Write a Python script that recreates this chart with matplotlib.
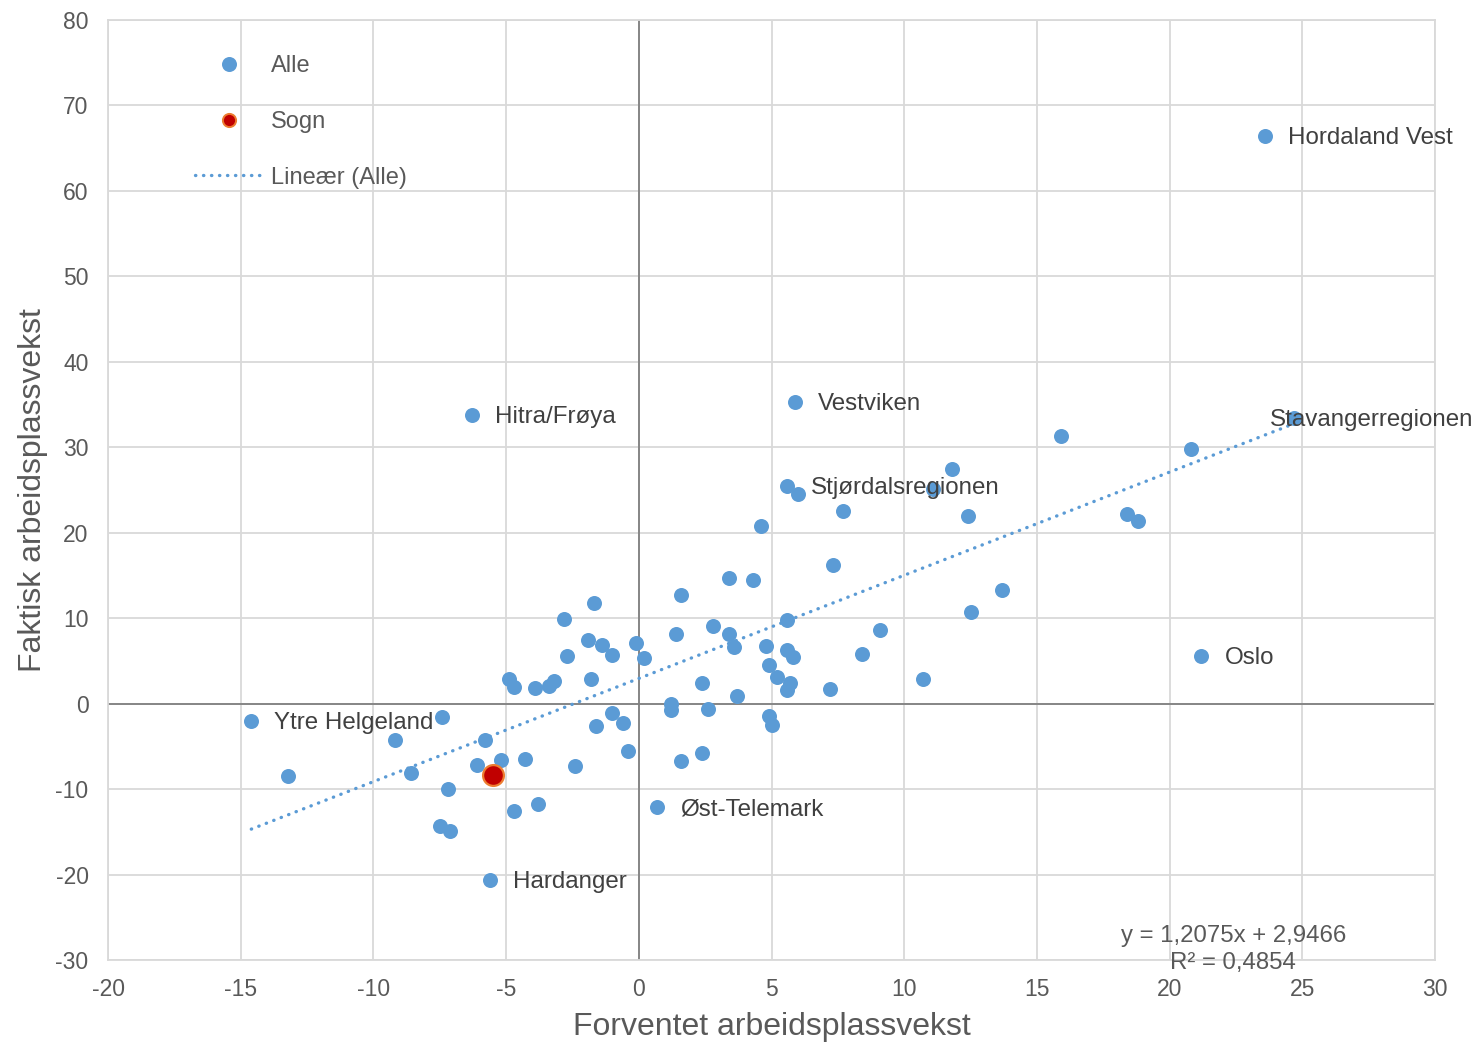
import matplotlib
matplotlib.use('Agg')
import matplotlib.pyplot as plt
from matplotlib.lines import Line2D

plt.rcParams['font.family'] = ['Liberation Sans', 'DejaVu Sans']
plt.rcParams['axes.unicode_minus'] = False

# ---- data ----
label_names = ["Hordaland Vest", "Stavangerregionen", "Oslo", "Vestviken",
               "Stjørdalsregionen", "Hitra/Frøya", "Ytre Helgeland",
               "Øst-Telemark", "Hardanger"]
label_x = [23.6, 24.7, 21.2, 5.9, 5.6, -6.3, -14.6, 0.7, -5.6]
label_y = [66.4, 33.4, 5.6, 35.3, 25.5, 33.8, -2.0, -12.1, -20.6]

other_x = [20.8, 18.4, 18.8, 15.9, 13.7, 11.8, 11.1, 12.4, 12.5, 10.7,
           6.0, 7.7, 4.6, 7.3, 3.4, 4.3, 1.6, 5.6, 9.1, 2.8,
           3.4, 1.4, 3.6, 4.8, 5.6, 5.8, 8.4, 4.9, 5.2, 5.7,
           5.6, 7.2, 3.7, 2.4, 1.2, 1.2, 2.6, 4.9, 5.0, 2.4,
           1.6, 0.2, -0.1, -1.0, -1.4, -1.7, -1.9, -2.8, -2.7, -1.8,
           -3.2, -3.4, -3.9, -4.9, -4.7, -1.0, -0.6, -1.6, -0.4, -2.4,
           -4.3, -5.2, -6.1, -5.8, -4.7, -3.8, -7.2, -7.5, -7.1, -7.4,
           -9.2, -8.6, -13.2]
other_y = [29.8, 22.2, 21.4, 31.3, 13.3, 27.5, 25.1, 22.0, 10.7, 2.9,
           24.5, 22.5, 20.8, 16.2, 14.7, 14.5, 12.7, 9.8, 8.6, 9.1,
           8.2, 8.2, 6.6, 6.7, 6.3, 5.4, 5.8, 4.5, 3.1, 2.4,
           1.6, 1.7, 0.9, 2.4, 0.0, -0.8, -0.6, -1.5, -2.5, -5.8,
           -6.7, 5.3, 7.1, 5.7, 6.9, 11.8, 7.4, 9.9, 5.6, 2.9,
           2.6, 2.1, 1.8, 2.9, 1.9, -1.1, -2.3, -2.6, -5.5, -7.3,
           -6.5, -6.6, -7.2, -4.3, -12.6, -11.8, -10.0, -14.3, -14.9, -1.6,
           -4.2, -8.1, -8.5]

sogn_x = [-5.5]
sogn_y = [-8.3]

trend_slope = 1.2075
trend_intercept = 2.9466
r_squared = "0,4854"

x_ticks = [-20, -15, -10, -5, 0, 5, 10, 15, 20, 25, 30]
y_ticks = [-30, -20, -10, 0, 10, 20, 30, 40, 50, 60, 70, 80]

# ---- styles ----
BLUE = '#5B9BD5'
GRID = '#D9D9D9'
TXT = '#595959'
LBL = '#404040'
DOTS = (0, (0.1, 2.3))

W, H = 1481, 1048
fig = plt.figure(figsize=(W / 100, H / 100), dpi=100)
ax = fig.add_axes([108 / W, 1 - 960 / H, (1435 - 108) / W, (960 - 20) / H])

all_x = label_x + other_x
all_y = label_y + other_y

ax.set_xlim(x_ticks[0], x_ticks[-1])
ax.set_ylim(y_ticks[0], y_ticks[-1])
ax.set_xticks(x_ticks)
ax.set_yticks(y_ticks)
ax.grid(True, color=GRID, linewidth=1.3)
ax.set_axisbelow(True)
for s in ax.spines.values():
    s.set_color(GRID)
    s.set_linewidth(1.3)
ax.tick_params(length=0, labelsize=16.5, labelcolor=TXT)
ax.tick_params(axis='x', pad=13)
ax.tick_params(axis='y', pad=14)

ax.axhline(0, color='#808080', linewidth=1.3, zorder=1)
ax.axvline(0, color='#808080', linewidth=1.3, zorder=1)

# trend line
tx0, tx1 = min(all_x), max(all_x)
ax.plot([tx0, tx1], [trend_slope * tx0 + trend_intercept, trend_slope * tx1 + trend_intercept],
        color=BLUE, linewidth=2.4, linestyle=DOTS, dash_capstyle='round', zorder=2)

ax.plot(all_x, all_y, 'o', color=BLUE, markersize=10.8, markeredgewidth=0, zorder=3)
ax.plot(sogn_x, sogn_y, 'o', color='#C00000', markeredgecolor='#ED7D31',
        markersize=15, markeredgewidth=1.6, zorder=4)

for name, x, y in zip(label_names, label_x, label_y):
    dx = -24 if name == "Stavangerregionen" else 23
    ax.annotate(name, (x, y), xytext=(dx, -2), textcoords='offset pixels',
                ha='left', va='center', fontsize=17.4, color=LBL, zorder=5,
                annotation_clip=False)

ax.text(22.4, -27.2, f"y = {str(trend_slope).replace('.', ',')}x + {str(trend_intercept).replace('.', ',')}",
        ha='center', va='center', fontsize=17.3, color=TXT, clip_on=False)
ax.text(22.4, -30.4, f"R² = {r_squared}", ha='center', va='center', fontsize=17.3,
        color=TXT, clip_on=False)

ax.set_xlabel("Forventet arbeidsplassvekst", fontsize=23, color=TXT, labelpad=8)
ax.set_ylabel("Faktisk arbeidsplassvekst", fontsize=23, color=TXT, labelpad=5)

handles = [
    Line2D([], [], linestyle='none', marker='o', color=BLUE, markersize=10.8, markeredgewidth=0),
    Line2D([], [], linestyle='none', marker='o', color='#C00000', markeredgecolor='#ED7D31',
           markersize=9.5, markeredgewidth=1.4),
    Line2D([], [], color=BLUE, linewidth=2.4, linestyle=DOTS, dash_capstyle='round'),
]
leg = fig.legend(handles, ["Alle", "Sogn", "Lineær (Alle)"], loc='upper left',
                 bbox_to_anchor=(195 / W, 1 - 55 / H), frameon=False, fontsize=17,
                 handlelength=2.85, handletextpad=0.38, labelspacing=1.43, borderpad=0,
                 borderaxespad=0)
for t in leg.get_texts():
    t.set_color(TXT)

fig.savefig('out.png', dpi=100)
